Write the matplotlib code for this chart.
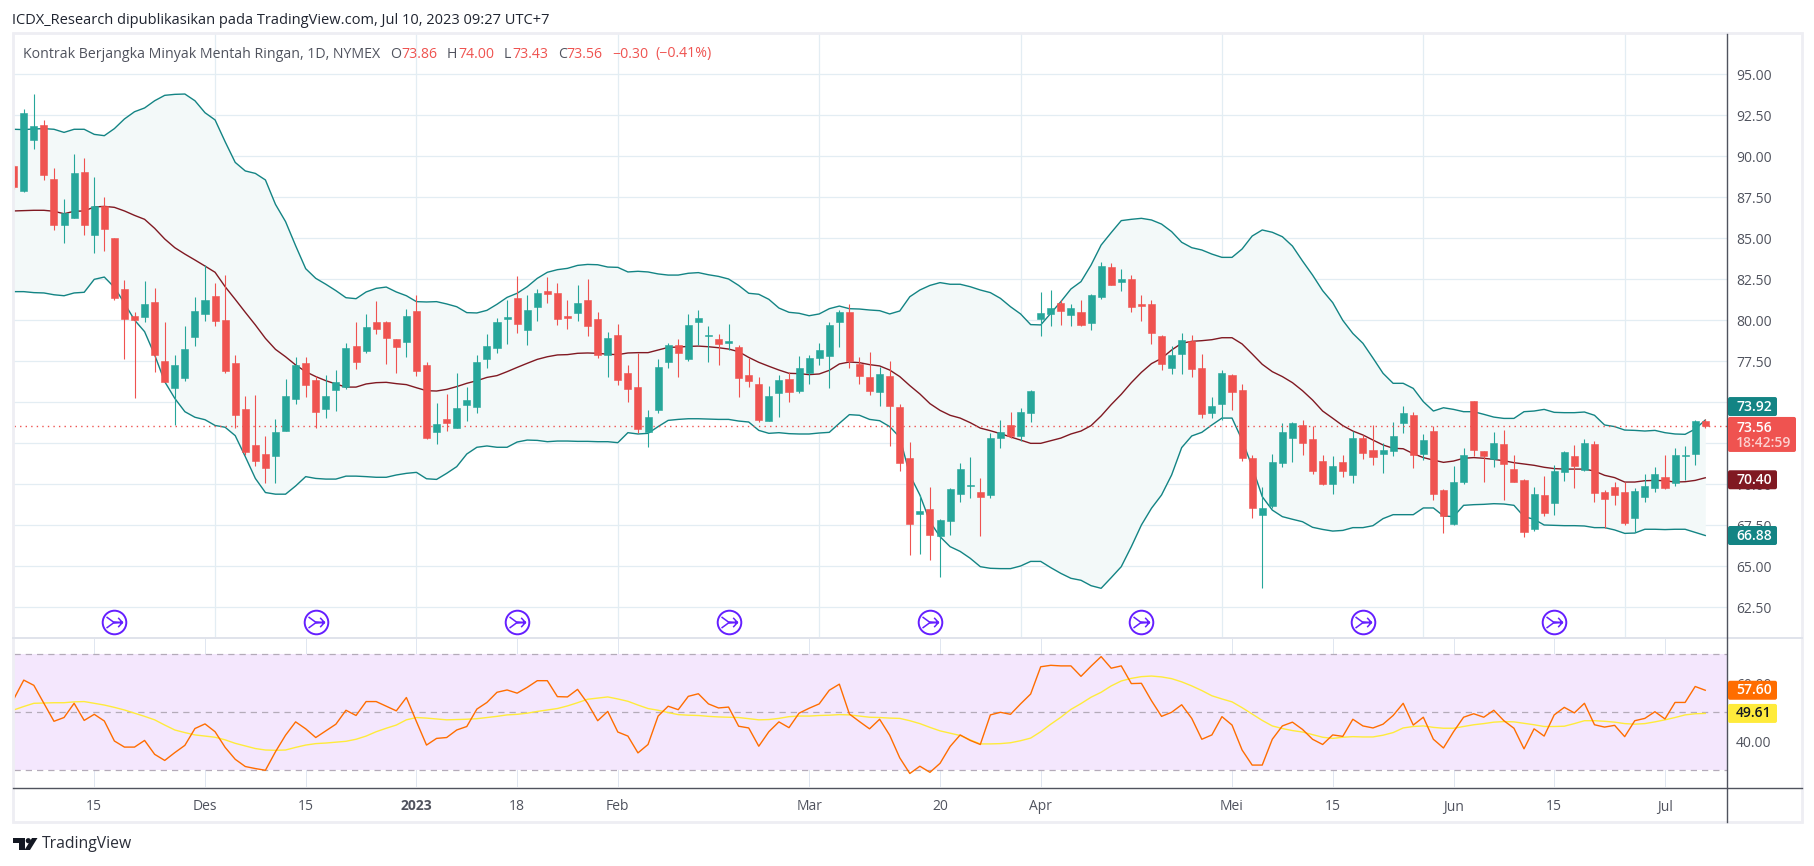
import matplotlib
matplotlib.use('Agg')
import matplotlib.pyplot as plt
from matplotlib.lines import Line2D
from matplotlib.patches import FancyBboxPatch, Polygon, Circle, Rectangle
from matplotlib.path import Path
from matplotlib.transforms import IdentityTransform
import numpy as np

plt.rcParams['font.family'] = ['Open Sans', 'DejaVu Sans']

opens = [89.41,87.9,91.0,91.91,88.62,85.81,86.24,89.04,85.2,86.97,
         85.02,81.91,80.26,80.2,81.12,77.52,75.87,76.48,78.98,80.39,
         81.48,80.02,77.4,74.59,72.4,71.85,71.73,73.25,75.2,77.4,
         76.36,74.59,75.75,75.93,78.43,78.13,79.9,79.9,78.86,78.68,
         80.57,77.28,73.19,73.98,73.43,74.84,74.72,77.64,78.31,80.08,
         81.36,79.41,80.81,81.79,81.67,80.26,80.45,81.24,80.08,77.89,
         79.1,76.79,75.93,73.19,74.53,77.46,78.5,77.64,79.9,79.04,
         78.86,78.62,78.37,76.67,76.12,73.86,75.57,76.42,75.69,76.79,
         77.7,77.83,79.9,80.51,77.34,76.54,75.63,76.61,74.72,71.61,
         68.19,68.5,66.85,67.76,69.41,69.9,69.53,69.35,72.82,73.62,
         72.95,74.35,80.08,80.39,81.06,80.33,80.51,79.84,81.42,83.25,
         82.34,82.52,81.0,81.0,79.04,77.09,77.95,78.74,77.09,74.35,
         74.9,76.67,75.75,71.61,68.13,68.68,71.3,72.82,73.62,72.76,
         71.42,70.02,71.36,70.57,72.82,72.09,71.85,72.03,73.74,74.23,
         71.85,73.25,69.65,67.58,70.14,75.08,72.03,71.54,72.46,70.93,
         70.26,67.28,69.35,68.86,70.75,71.73,70.87,72.46,69.53,69.84,
         69.53,67.95,69.23,69.78,70.45,70.08,71.73,71.85,73.86]
closes = [88.15,92.64,91.85,88.86,85.81,86.52,88.98,85.81,86.97,85.57,
          81.36,80.08,80.02,81.0,77.89,76.24,77.28,78.25,80.57,81.24,
          79.96,76.91,74.23,71.97,71.42,71.0,73.19,75.39,77.28,76.06,
          74.41,75.39,76.24,78.31,77.46,79.59,79.47,78.92,78.37,80.26,
          76.91,72.82,73.68,73.74,74.65,75.14,77.46,78.43,79.9,80.2,
          79.78,80.63,81.67,81.6,80.08,80.14,81.06,79.65,77.89,78.92,
          76.36,75.81,73.37,74.11,77.15,78.5,78.01,79.72,80.14,79.11,
          78.56,78.74,76.48,76.3,73.92,75.39,76.36,75.63,77.09,77.7,
          78.19,79.72,80.51,77.52,76.61,75.69,76.73,74.78,71.3,67.58,
          68.37,66.91,67.82,69.72,70.93,69.96,69.23,72.82,73.19,72.95,
          74.41,75.69,80.45,80.75,80.57,80.75,79.72,81.54,83.31,82.15,
          82.52,80.81,80.87,79.23,77.34,77.89,78.8,77.03,74.29,74.78,
          76.79,75.63,71.61,68.56,68.56,71.36,73.19,73.74,72.52,70.81,
          70.02,71.12,70.81,72.82,71.91,71.67,72.09,72.95,74.35,71.79,
          72.7,69.41,68.07,70.14,71.79,72.09,71.73,72.52,71.24,70.14,
          67.09,69.41,68.25,70.81,71.97,71.12,72.52,69.47,69.11,69.35,
          67.64,69.59,69.9,70.63,69.76,71.79,71.79,73.86,73.56]
highs = [89.5,92.89,93.8,92.2,89.3,87.4,90.14,89.9,88.74,87.52,
         85.02,82.46,80.51,82.4,81.97,79.9,77.89,79.65,81.42,83.37,
         82.28,82.76,77.89,75.39,75.45,72.95,74.0,76.42,77.76,77.76,
         76.6,76.67,76.97,78.62,79.9,80.39,81.18,79.96,78.86,80.69,
         81.54,77.46,74.96,75.51,76.79,75.93,77.89,79.17,80.14,81.24,
         82.7,81.54,81.91,82.64,82.28,81.24,82.15,82.52,80.51,79.29,
         79.78,77.28,78.0,74.53,77.64,78.62,78.86,80.39,80.63,79.65,
         79.17,79.78,78.5,77.7,76.54,76.0,76.67,76.85,77.83,77.89,
         78.62,79.9,80.63,81.0,77.76,78.07,77.15,77.52,74.9,72.58,
         69.35,69.84,67.89,69.78,71.3,71.67,70.39,73.13,73.92,74.41,
         74.65,75.75,81.73,81.85,81.24,81.0,81.24,81.6,83.56,83.5,
         83.13,82.76,81.54,81.24,79.1,78.43,79.23,79.1,77.95,75.33,
         76.97,76.73,76.12,71.79,69.84,71.85,73.74,73.8,73.92,73.56,
         71.79,71.73,71.79,73.25,73.0,73.62,72.52,73.8,74.78,74.41,
         73.07,73.56,69.72,71.12,72.22,75.08,72.03,73.19,73.31,71.79,
         70.33,69.84,70.51,71.18,72.03,72.4,72.76,72.64,69.65,70.14,
         70.14,69.78,70.63,71.06,71.79,72.22,72.34,73.92,74.0]
lows = [88.0,87.85,90.45,88.55,85.5,84.7,86.24,85.2,84.1,84.23,
        81.24,77.64,75.26,79.9,76.85,76.24,73.62,76.3,78.43,79.96,
        79.65,76.79,73.43,71.79,71.12,70.1,70.1,73.25,74.9,75.33,
        73.43,74.05,74.47,75.81,77.03,78.0,79.17,77.34,76.79,77.76,
        76.6,72.76,72.46,73.25,73.43,73.86,74.35,77.09,78.0,78.56,
        79.23,78.5,79.96,81.06,79.72,79.47,79.96,79.05,77.7,76.54,
        76.06,75.02,73.13,72.28,74.35,77.09,76.54,77.52,78.5,77.46,
        77.28,78.19,75.33,75.93,73.8,73.86,74.11,75.02,75.57,76.12,
        77.28,75.87,78.37,77.09,76.12,75.45,74.78,72.34,70.81,65.69,
        65.75,65.39,64.35,66.91,68.92,69.17,66.85,69.17,72.22,72.82,
        72.64,73.8,79.04,79.65,79.72,79.65,79.65,79.41,81.3,82.15,
        81.79,80.51,79.96,78.56,76.97,76.73,76.73,76.54,74.04,74.04,
        73.92,74.53,71.42,67.95,63.68,68.56,71.06,71.36,71.79,70.63,
        69.96,69.41,70.45,70.08,71.54,71.18,70.69,71.73,73.13,71.0,
        71.48,69.05,67.03,67.52,70.02,71.73,70.14,71.06,69.05,70.14,
        66.79,67.15,68.07,68.13,70.2,69.78,70.81,68.92,67.34,68.74,
        67.52,67.09,68.92,69.53,69.72,69.9,70.26,71.18,73.43]

bb_upper = [91.65,91.63,91.67,91.69,91.65,91.46,91.65,91.65,91.34,91.26,
            91.69,92.28,92.72,92.95,93.39,93.72,93.78,93.8,93.39,92.66,
            92.22,90.89,89.63,89.11,88.96,88.56,87.07,86.02,84.55,83.15,
            82.56,82.2,81.81,81.38,81.32,81.73,81.95,82.03,81.73,81.5,
            81.14,81.12,81.14,81.0,80.83,80.47,80.45,80.61,80.98,81.4,
            81.65,82.05,82.56,82.93,83.09,83.17,83.35,83.41,83.39,83.25,
            83.23,82.95,82.99,82.95,82.83,82.76,82.76,82.87,82.91,82.78,
            82.68,82.52,82.13,81.65,81.59,81.28,80.75,80.49,80.43,80.28,
            80.39,80.71,80.87,80.71,80.69,80.63,80.59,80.39,80.57,81.44,
            81.85,82.13,82.3,82.2,82.2,82.05,81.85,81.69,81.34,80.83,
            80.39,79.74,79.72,80.43,81.14,81.91,82.36,83.37,84.59,85.35,
            86.08,86.16,86.22,86.12,85.87,85.41,84.76,84.43,84.29,84.04,
            83.84,83.84,84.35,85.14,85.51,85.37,85.1,84.53,83.62,82.76,
            81.81,81.08,80.0,79.2,78.6,77.7,76.77,76.16,76.16,75.85,
            75.04,74.47,74.67,74.57,74.43,74.43,74.27,74.1,74.02,74.02,
            74.43,74.47,74.57,74.39,74.37,74.37,74.41,74.21,73.62,73.52,
            73.31,73.29,73.25,73.29,73.15,73.07,73.05,73.37,73.92]
bb_mid = [86.67,86.69,86.71,86.71,86.65,86.5,86.65,86.67,86.91,86.95,
          86.89,86.67,86.4,86.16,85.61,84.96,84.43,84.04,83.68,83.31,
          82.93,82.05,81.28,80.49,79.72,78.9,78.23,77.78,77.28,76.87,
          76.57,76.32,76.12,75.93,75.93,76.12,76.2,76.22,76.14,76.08,
          75.89,75.71,75.69,75.79,75.96,76.16,76.32,76.52,76.63,76.87,
          77.13,77.38,77.62,77.78,77.89,77.91,77.99,78.01,77.99,77.93,
          77.91,78.01,78.03,78.03,78.19,78.35,78.37,78.41,78.43,78.39,
          78.33,78.25,78.09,77.74,77.44,77.2,76.97,76.77,76.75,76.69,
          76.73,76.95,77.34,77.46,77.42,77.3,77.22,76.97,76.57,76.02,
          75.51,74.92,74.51,74.21,74.04,73.76,73.43,73.27,73.09,72.89,
          72.7,72.5,72.5,72.66,72.82,73.07,73.25,73.58,74.17,74.86,
          75.49,76.2,76.83,77.36,77.68,78.19,78.6,78.72,78.76,78.82,
          78.94,78.94,78.56,77.95,77.32,76.87,76.57,76.2,75.71,75.14,
          74.47,74.03,73.58,73.25,73.01,72.7,72.4,72.2,72.17,71.87,
          71.63,71.48,71.34,71.42,71.59,71.63,71.59,71.52,71.44,71.32,
          71.24,71.16,71.04,70.96,70.93,70.93,70.93,70.81,70.55,70.41,
          70.14,70.14,70.22,70.24,70.22,70.14,70.16,70.24,70.40]
bb_lower = [81.75,81.75,81.69,81.67,81.56,81.5,81.67,81.71,82.5,82.64,
            82.01,81.04,80.02,79.31,77.89,76.26,75.24,74.43,74.09,73.94,
            73.59,73.48,72.97,71.69,70.36,69.5,69.4,69.4,69.9,70.47,
            70.36,70.32,70.32,70.5,70.5,70.47,70.43,70.43,70.57,70.67,
            70.73,70.34,70.3,70.67,71.08,71.85,72.26,72.34,72.26,72.26,
            72.58,72.7,72.68,72.6,72.64,72.64,72.62,72.62,72.6,72.6,
            72.54,73.15,73.07,73.11,73.52,73.9,73.96,74.0,74.0,73.98,
            73.96,73.96,73.86,73.8,73.29,73.11,73.15,73.09,73.07,73.07,
            73.13,73.17,73.72,74.25,74.21,73.96,73.88,73.52,72.87,70.57,
            69.35,67.72,66.81,66.2,65.91,65.49,64.98,64.88,64.86,64.86,
            65.02,65.3,65.3,64.92,64.57,64.27,64.15,63.82,63.66,64.31,
            64.98,66.2,67.52,68.54,69.35,70.57,72.24,72.95,73.17,73.62,
            74.04,74.04,72.7,71.08,69.25,68.43,68.03,67.87,67.72,67.38,
            67.25,67.15,67.19,67.36,67.36,67.48,67.91,68.15,68.15,68.15,
            68.56,68.56,68.07,68.03,68.72,68.76,68.78,68.82,68.8,68.72,
            68.03,67.87,67.52,67.5,67.48,67.48,67.46,67.36,67.36,67.22,
            67.01,67.03,67.26,67.26,67.24,67.26,67.26,67.07,66.88]

rsi = [54.5,61.1,59.3,53.1,46.9,48.2,53.1,47.2,49.3,47.0,
       40.1,38.0,38.0,40.3,35.5,33.4,36.1,38.6,44.4,46.0,
       43.3,37.9,33.8,31.3,30.6,30.0,36.4,42.1,46.7,44.3,
       41.3,43.6,45.9,50.7,48.9,53.7,53.7,52.1,50.5,55.1,
       46.8,38.7,41.0,41.3,43.9,45.1,51.1,53.4,56.9,57.7,
       56.6,58.6,60.9,60.9,55.4,55.3,57.9,53.1,47.1,50.3,
       43.2,41.8,36.0,38.9,48.7,52.1,50.9,55.5,56.4,52.9,
       51.5,51.8,45.2,44.6,38.3,43.3,46.7,44.7,49.7,51.4,
       52.9,57.6,59.7,49.4,46.8,44.3,47.6,42.1,34.3,28.9,
       31.4,29.3,32.4,38.2,42.2,40.3,38.9,49.1,50.0,49.3,
       52.9,56.3,65.7,66.2,66.0,66.0,62.4,65.9,69.2,65.2,
       66.0,59.9,60.0,54.0,48.6,50.0,52.6,47.9,40.7,42.2,
       48.5,45.6,37.0,31.8,31.8,40.7,45.3,46.6,44.1,40.7,
       38.9,42.2,41.7,47.6,45.3,44.6,45.9,48.9,53.1,45.6,
       48.3,40.7,37.7,43.3,48.3,49.5,48.3,50.7,47.1,44.5,
       37.4,44.3,41.8,49.1,51.7,49.8,53.1,45.7,44.9,45.5,
       41.6,47.1,47.9,50.2,47.7,53.4,53.4,58.9,57.6]
rsi_ma = [50.8,52.0,53.1,53.2,53.3,53.3,53.6,53.7,53.1,52.5,
          51.7,50.8,49.7,48.6,47.4,45.6,43.9,43.0,42.2,41.8,
          41.4,40.5,39.3,38.4,37.5,37.0,36.9,37.0,37.9,38.7,
          39.2,39.4,39.7,40.0,40.7,41.8,43.3,44.5,45.6,47.4,
          48.2,48.0,47.7,47.4,47.5,47.6,47.8,48.2,48.6,49.1,
          49.3,49.7,50.3,50.8,51.3,52.2,53.3,54.5,54.9,55.3,
          54.6,53.8,52.5,51.3,50.7,49.9,49.2,49.0,48.9,48.6,
          48.4,48.3,48.2,47.8,47.4,47.5,47.9,48.5,48.7,48.7,
          48.9,49.0,49.2,49.1,48.7,48.3,48.2,48.0,47.9,47.1,
          46.1,44.8,43.6,42.8,42.0,40.5,39.1,39.1,39.2,39.5,
          40.2,41.1,43.3,45.9,48.3,51.0,53.0,55.2,56.9,59.1,
          60.8,61.7,62.3,62.5,62.2,61.6,60.5,59.1,57.5,55.7,
          54.6,53.6,51.6,49.4,47.2,45.3,44.4,43.7,43.2,42.3,
          41.4,41.0,41.4,41.6,41.5,41.5,42.1,43.0,44.6,45.1,
          45.3,44.8,44.5,44.5,45.1,45.7,46.1,46.6,46.8,46.7,
          46.2,45.7,45.1,45.1,45.2,46.1,47.1,47.1,46.9,46.6,
          46.1,45.9,46.1,46.7,47.4,48.2,49.1,49.5,49.61]

price_ticks = [62.5,65,67.5,70,72.5,75,77.5,80,82.5,85,87.5,90,92.5,95]
rsi_ticks = [40,60]
date_bars = [8,19,29,40,50,60,79,92,102,121,131,143,153,164]
date_labels = ['15','Des','15','2023','18','Feb','Mar','20','Apr','Mei','15','Jun','15','Jul']
dividend_bars = [10,30,50,71,91,112,134,153]
dividend_level = 61.63
countdown = '18:42:59'

W, H = 1815, 866
UP, DOWN = '#26a69a', '#ef5350'
TEAL, MAROON = '#138484', '#801922'
GRID = '#e3edf3'
AXIS = '#50535e'
TXT = '#50535e'
FS = 10

def px_box(l, t, r, b):
    return [l/W, 1-b/H, (r-l)/W, (b-t)/H]

def label(x, y, s, color=TXT, size=FS, **kw):
    kw.setdefault('va', 'center')
    kw.setdefault('zorder', 8)
    fig.text(x/W, 1-y/H, s, color=color, fontsize=size, **kw)

def rule(x0, y0, x1, y1, color, lw=0.75, zorder=4):
    fig.add_artist(Line2D([x0/W, x1/W], [1-y0/H, 1-y1/H], color=color, lw=lw, zorder=zorder))

fig = plt.figure(figsize=(W/100, H/100), dpi=100, facecolor='white')
ax1 = fig.add_axes(px_box(14, 34, 1727, 638))
ax2 = fig.add_axes(px_box(14, 638, 1727, 787))

bars = np.arange(len(closes))
o, c, h, l = map(np.array, (opens, closes, highs, lows))
colors = np.where(c >= o, UP, DOWN)

ax1.fill_between(bars, bb_lower, bb_upper, color='#f3f9f9', lw=0, zorder=1)
ax1.plot(bars, bb_upper, color=TEAL, lw=1.0, zorder=2)
ax1.plot(bars, bb_lower, color=TEAL, lw=1.0, zorder=2)
ax1.plot(bars, bb_mid, color=MAROON, lw=1.0, zorder=2)
ax1.vlines(bars, l, h, colors=colors, lw=0.8, zorder=3)
ax1.bar(bars, c-o, bottom=o, width=0.7, color=colors, edgecolor=colors, lw=0.4, zorder=4)
ax1.axhline(closes[-1], color=DOWN, lw=1, ls=(0, (1, 3)), zorder=3)

# dividend markers, circle + merging arrow
arrow = Path([(-.65,.45),(-.1,.05),(.65,0),(-.65,-.45),(-.1,-.05),(.65,0),(.3,.38),(.65,0),(.3,-.38)],
             [Path.MOVETO,Path.LINETO,Path.LINETO,Path.MOVETO,Path.LINETO,Path.LINETO,Path.MOVETO,Path.LINETO,Path.LINETO])
lev = [dividend_level]*len(dividend_bars)
ax1.plot(dividend_bars, lev, ls='', marker='o', ms=17, mfc='white', mec='#651fff', mew=1.4, zorder=5, clip_on=False)
ax1.plot(dividend_bars, lev, ls='', marker=arrow, ms=11.5, mfc='none', mec='#651fff', mew=1.1, zorder=6)

ax1.set_xlim(0.03, 170.16)
ax1.set_ylim(60.63, 97.46)
ax1.set_yticks(price_ticks)
ax1.set_yticklabels(['%.2f' % v for v in price_ticks])

ax2.axhspan(30, 70, color='#f4e7fd', lw=0, zorder=1)
for v in (70, 50, 30):
    ax2.axhline(v, color='#b4abb9', lw=0.9, ls=(0, (5, 4)), zorder=2)
ax2.plot(bars, rsi_ma, color='#ffeb3b', lw=1.0, zorder=3)
ax2.plot(bars, rsi, color='#ff6d00', lw=1.0, zorder=4)
ax2.set_xlim(0.03, 170.16)
ax2.set_ylim(24.24, 75.62)
ax2.set_yticks(rsi_ticks)
ax2.set_yticklabels(['%.2f' % v for v in rsi_ticks])
ax2.set_xticks(date_bars)
ax2.set_xticklabels(date_labels)
ax2.get_xticklabels()[date_labels.index('2023')].set_fontweight('bold')

for ax in (ax1, ax2):
    ax.set_axisbelow(True)
    ax.grid(True, color=GRID, lw=0.9)
    ax.yaxis.tick_right()
    ax.tick_params(axis='y', length=0, pad=6.5, labelsize=FS, labelcolor=TXT)
    ax.tick_params(axis='x', length=0, pad=9, labelsize=FS, labelcolor=TXT)
    for s in ax.spines.values():
        s.set_visible(False)
ax1.tick_params(axis='x', labelbottom=False)
ax2.set_yticks(rsi_ticks)
ax2.grid(True, axis='y', color='#dcd6ee', lw=0.9)
ax2.grid(True, axis='x', color='#e0e6f0', lw=0.7)

# outer frame and pane rules
fig.add_artist(Rectangle((13/W, 1-822/H), 1789/W, 789/H, transform=fig.transFigure,
                         fc='none', ec='#eeeef3', lw=2, zorder=3))
rule(13, 638, 1802, 638, '#e0e3eb', lw=1.4)
rule(13, 787.5, 1802, 787.5, AXIS, lw=1)
rule(1727.5, 34, 1727.5, 822, AXIS, lw=1)

def value_box(ax, v, s, bg, fg='white', dy=0):
    fig.canvas.draw()
    y = H - ax.transData.transform((0, v))[1] + dy
    fig.add_artist(FancyBboxPatch((1728, H-y-9.5), 49, 19, transform=IdentityTransform(),
                                  boxstyle='round,pad=0,rounding_size=2', fc=bg, ec='none', zorder=7))
    label(1754, y, s, color=fg, ha='center', fontweight='semibold')

# the upper band box is pushed up by the last price box
value_box(ax1, bb_upper[-1], '%.2f' % bb_upper[-1], TEAL, dy=-13.5)
value_box(ax1, bb_mid[-1], '%.2f' % bb_mid[-1], MAROON, dy=2)
value_box(ax1, bb_lower[-1], '%.2f' % bb_lower[-1], TEAL)
value_box(ax2, rsi[-1], '%.2f' % rsi[-1], '#ff6d00')
value_box(ax2, rsi_ma[-1], '%.2f' % rsi_ma[-1], '#ffeb3b', fg='#131722')

# last price box has the countdown too
y = H - ax1.transData.transform((0, closes[-1]))[1]
fig.add_artist(FancyBboxPatch((1728, H-y-26), 68, 35, transform=IdentityTransform(),
                              boxstyle='round,pad=0,rounding_size=2', fc=DOWN, ec='none', zorder=7))
label(1754, y+2, '%.2f' % closes[-1], color='white', ha='center', fontweight='semibold')
label(1764, y+17, countdown, color='#fcd0cf', ha='center', fontweight='semibold')

# header texts
label(12, 20, 'ICDX_Research dipublikasikan pada TradingView.com, Jul 10, 2023 09:27 UTC+7', color='#1f2430', size=10.5)
label(23, 54, 'Kontrak Berjangka Minyak Mentah Ringan, 1D, NYMEX', size=10.2)
for x, s in ((390, 'O'), (447, 'H'), (503.5, 'L'), (558, 'C')):
    label(x, 54, s, size=10.2)
for x, v in ((401.5, opens[-1]), (458, highs[-1]), (512, lows[-1]), (566, closes[-1])):
    label(x, 54, '%.2f' % v, color=DOWN, size=10.2)
label(612, 54, '−0.30', color=DOWN, size=10.2)
label(655, 54, '(−0.41%)', color=DOWN, size=10.2)

# TradingView logo
logo = '#131722'
for pts in ([(13,838),(25.3,838),(25.3,850),(19,850),(19,843),(13,843)],
            [(32,838),(37.5,838),(30,850),(24.5,850)]):
    fig.add_artist(Polygon([(x/W, 1-y/H) for x, y in pts], closed=True, fc=logo, ec='none', transform=fig.transFigure))
fig.add_artist(Circle((28.3, H-840.7), 2.6, fc=logo, ec='none', transform=IdentityTransform()))
label(42, 844, 'TradingView', color='#2a2e39', size=11.3)

fig.savefig('out.png', dpi=100)
